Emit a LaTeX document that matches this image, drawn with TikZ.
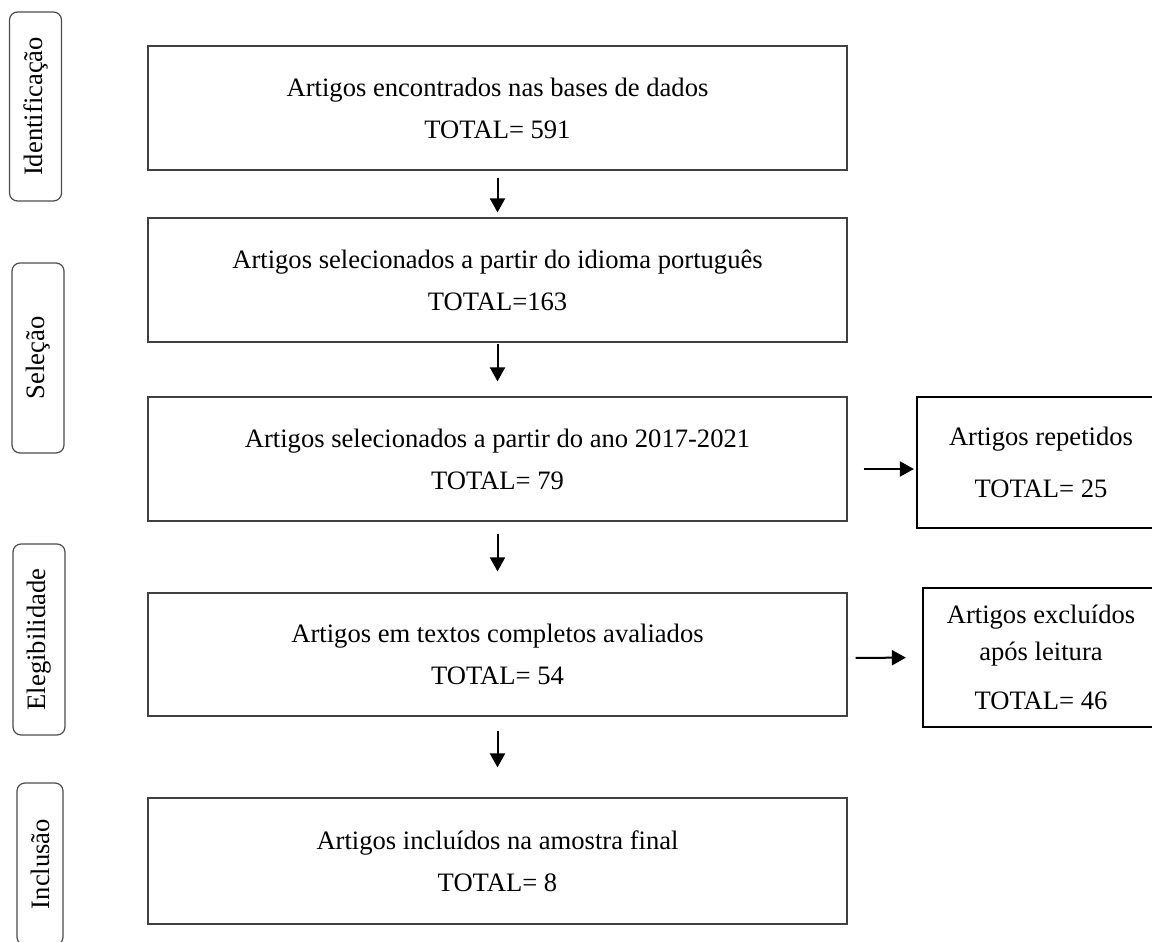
\documentclass[tikz,border=0pt]{standalone}
\usepackage{fontspec}
\setmainfont{Liberation Serif}
\usetikzlibrary{arrows.meta}

\begin{document}
\begin{tikzpicture}
[->,>={Triangle[width=7.5pt,length=7pt]},line width=1pt,x=0.5pt,y=-0.5pt,
font=\fontsize{13.3}{16}\selectfont,
flow block/.style={rectangle,draw=black!75,line width=0.6pt,minimum width=349.5pt,minimum height=62pt,align=center,inner sep=0pt},
side block/.style={rectangle,draw,line width=1.1pt,align=center,inner sep=0pt},
stage/.style={rectangle,rounded corners=4pt,draw=black!70,line width=0.6pt,rotate=90,minimum height=26pt,inner sep=0pt}]
\useasboundingbox (0,0) rectangle (1152,942);
    % fases
    \node[stage,minimum width=94.5pt] (ident) at (35.5,106.5) {Identificação};
    \node[stage,minimum width=95pt] (selec) at (38,358) {Seleção};
    \node[stage,minimum width=95.5pt] (eleg) at (39,639.5) {Elegibilidade};
    \node[stage,minimum width=81pt,minimum height=23pt] (incl) at (40,864) {Inclusão};
    % fluxo principal
    \node[flow block] (found) at (497.5,108) {Artigos encontrados nas bases de dados\\[5pt]TOTAL= 591};
    \node[flow block] (lang) at (497.5,280) {Artigos selecionados a partir do idioma português\\[5pt]TOTAL=163};
    \node[flow block] (years) at (497.5,459) {Artigos selecionados a partir do ano 2017-2021\\[5pt]TOTAL= 79};
    \node[flow block,minimum height=61.5pt] (fulltext) at (497.5,654.5) {Artigos em textos completos avaliados\\[5pt]TOTAL= 54};
    \node[flow block,minimum height=63pt] (final) at (497.5,861) {Artigos incluídos na amostra final\\[5pt]TOTAL= 8};
    \node[side block,minimum width=124pt,minimum height=65.5pt] (repeated) at (1041,462.5) {Artigos repetidos\\[10pt]TOTAL= 25};
    \node[side block,minimum width=118pt,minimum height=69.5pt] (excluded) at (1041,657.5) {Artigos excluídos\\[2.5pt]após leitura\\[8.5pt]TOTAL= 46};
    \path [->](found) edge[shorten <=3.5pt,shorten >=2.5pt] (lang);
    \path [->](lang) edge[shorten <=0.5pt,shorten >=7.5pt] (years);
    \path [->](years) edge[shorten <=6pt,shorten >=10.5pt] (fulltext);
    \path [->](fulltext) edge[shorten <=7pt,shorten >=15pt] (final);
    \path [->]([yshift=-5pt]years.east) edge[shorten <=8pt,shorten >=1pt] ([yshift=-3.25pt]repeated.west);
    \path [->]([yshift=-1.75pt]fulltext.east) edge[shorten <=4pt,shorten >=8pt] (excluded.west);
\end{tikzpicture}
\end{document}
